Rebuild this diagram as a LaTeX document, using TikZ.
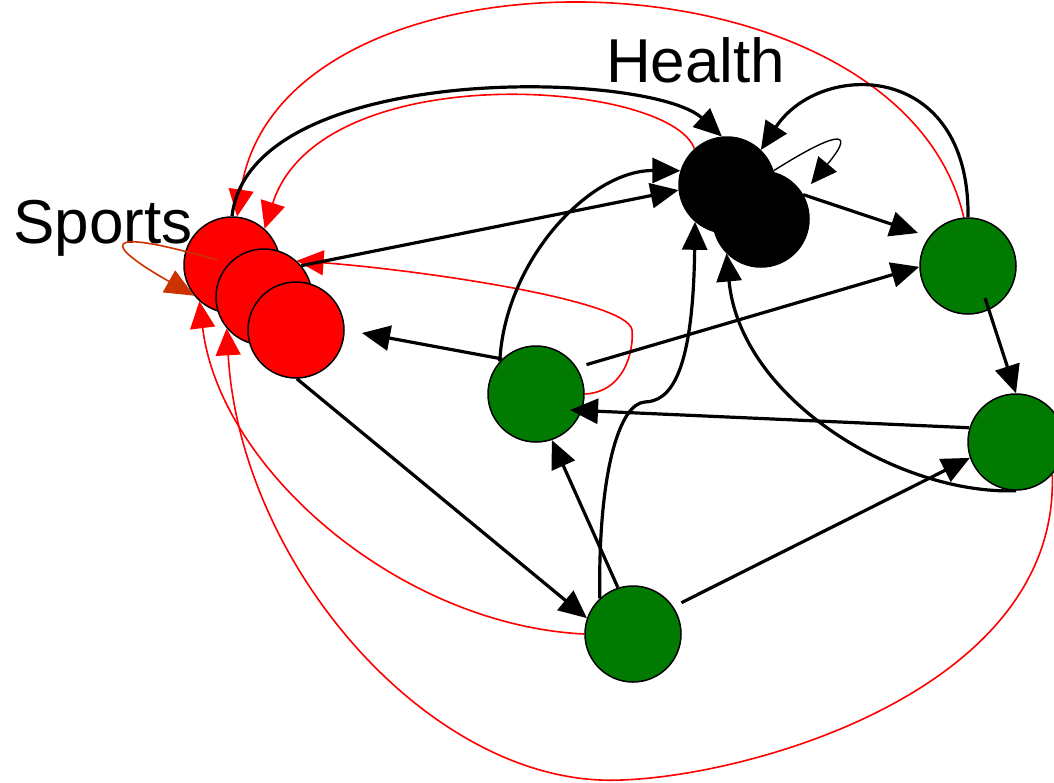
\documentclass[tikz,border=0pt]{standalone}
\usepackage{fontspec}
\setmainfont{Liberation Sans}
\usetikzlibrary{arrows.meta,backgrounds,calc}
\definecolor{grn}{RGB}{0,122,0}
\definecolor{loopc}{RGB}{204,51,0}
\tikzset{
 nd/.style={circle,draw=black,line width=1.5pt,minimum size=96pt,inner sep=0pt},
 sportsnd/.style={nd,fill=red},
 healthnd/.style={nd,fill=black},
 othernd/.style={nd,fill=grn},
 blk/.style={draw=black,line width=3.2pt,-{Triangle[length=28pt,width=25pt]}},
 thinblk/.style={draw=black,line width=1.4pt,-{Triangle[length=26pt,width=24pt]}},
 redln/.style={draw=red,line width=1.6pt,-{Triangle[length=27pt,width=25pt]}},
 loopln/.style={draw=loopc,line width=1.6pt,-{Triangle[length=29pt,width=25pt]}},
 lbl/.style={font=\fontsize{62}{70}\selectfont,inner sep=0pt,anchor=base west}
}
\begin{document}
\begin{tikzpicture}[x=1pt,y=-1pt]
\clip (0,0) rectangle (1054,782);
% nodes
\node[sportsnd] (r1) at (232,265) {};
\node[sportsnd] (r2) at (264,297) {};
\node[sportsnd] (r3) at (296,330) {};
\node[healthnd] (h1) at (727,185) {};
\node[healthnd] (h2) at (761,219) {};
\node[othernd] (g1) at (536,394) {};
\node[othernd] (g2) at (968,266) {};
\node[othernd] (g3) at (1016,442) {};
\node[othernd] (g4) at (633,634) {};
\node[lbl] (sports) at (13,243) {Sports};
\node[lbl] (health) at (606,82) {Health};
% free ends
\coordinate (t1) at (362,333);
\coordinate (t2) at (918,233);
\coordinate (t3) at (811,184);
\coordinate (t4) at (570,410);
\coordinate (s1) at (985,298);
\coordinate (s2) at (217,260);
\begin{scope}[on background layer]
 % red connectors
 \draw[redln] (h1.132) .. controls (670,80) and (320,55) .. (r1.48);
 \draw[redln] (g2.95) .. controls (900,-60) and (280,-70) .. (r1.84);
 \draw[redln] (g1.0) .. controls (625,392) and (634,350) .. (632,330)
   .. controls (628,300) and (420,270) .. (r2.48);
 \draw[redln] (g4.west) .. controls (400,625) and (220,470) .. (r1.228);
 \draw[redln] (g3.-42) .. controls (1060,700) and (720,785) .. (600,780)
   .. controls (420,772) and (240,560) .. (r2.220);
 % black connectors
 \draw[blk] (r1.north) .. controls (250,60) and (650,70) .. (h1.96);
 \draw[blk] (g2.north) .. controls (970,60) and (820,60) .. (h1.46);
 \draw[thinblk] (h1.17) .. controls (830,135) and (860,125) .. (t3);
 \draw[blk] (r2.40) -- (h1.186);
 \draw[blk] (g1.138) .. controls (505,260) and (590,170) .. (h1.163);
 \draw[blk] (g1.134) -- (t1);
 \draw[blk,shorten <=10pt] (g1.33) -- (g2.181);
 \draw[blk] (h2.30) -- (t2);
 \draw[blk] (g4.108) -- (g1.-71);
 \draw[blk,shorten <=9pt] (g4.34) -- (g3.199);
 \draw[blk] (r3.-89) -- (g4.161);
 \draw[blk] (g4.133) .. controls (598,470) and (620,403) .. (645,402)
   .. controls (668,401) and (693,380) .. (h1.229);
 \draw[blk] (g3.south) .. controls (900,495) and (740,400) .. (h2.225);
\end{scope}
% connectors drawn over the nodes
\draw[blk] (s1) -- (g3.north);
\draw[blk] (g3.163) -- (t4);
\draw[loopln] (s2) .. controls (95,225) and (105,245) .. (r1.219);
\end{tikzpicture}
\end{document}
